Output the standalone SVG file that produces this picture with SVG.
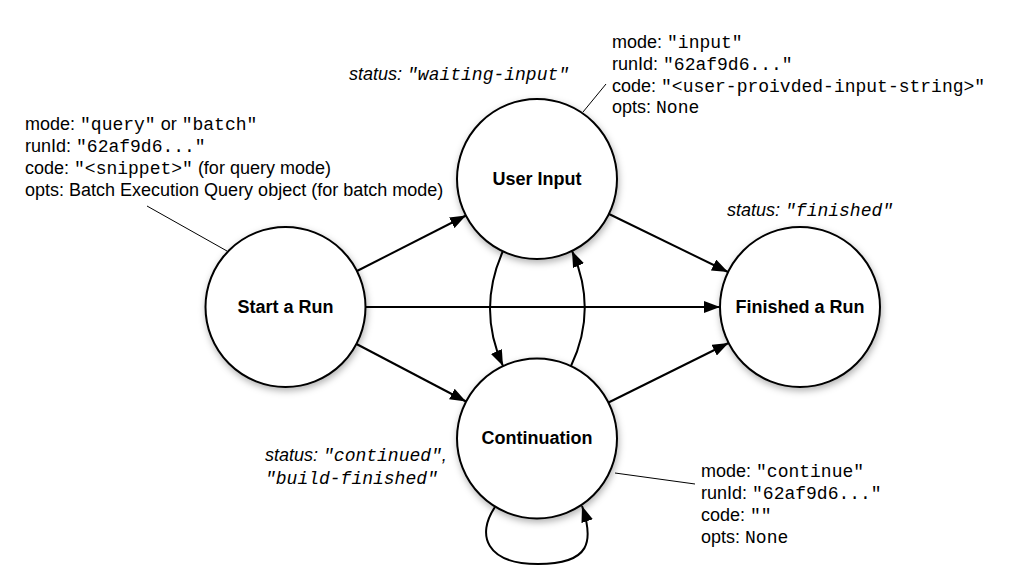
<svg xmlns="http://www.w3.org/2000/svg" width="1029" height="584" viewBox="0 0 1029 584">
<style>
.node{fill:#fff;stroke:#000;stroke-width:2;filter:url(#sh)}
.lbl{font-family:"Liberation Sans",Arial,sans-serif;font-weight:bold;font-size:18px;text-anchor:middle;fill:#000}
.ann{font-family:"Liberation Sans",Arial,sans-serif;font-size:18px;fill:#000}
.st{font-family:"Liberation Sans",Arial,sans-serif;font-size:18px;font-style:italic;fill:#000}
.m{font-family:"Liberation Mono","Courier New",monospace}
.edge{fill:none;stroke:#000;stroke-width:2;marker-end:url(#ah)}
.ptr{fill:none;stroke:#000;stroke-width:1}
</style>
<defs>
<filter id="sh" x="-20%" y="-20%" width="140%" height="150%">
<feDropShadow dx="1" dy="3" stdDeviation="3.5" flood-color="#000" flood-opacity="0.3"/>
</filter>
<marker id="ah" markerUnits="userSpaceOnUse" markerWidth="16" markerHeight="12" refX="16" refY="6" orient="auto">
<path d="M0,0 L16,6 L0,12 z" fill="#000"/>
</marker>
</defs>
<rect width="1029" height="584" fill="#fff"/>

<g id="connectors">
<line class="edge" x1="357" y1="271" x2="466" y2="215.5"/>
<line class="edge" x1="356.5" y1="344" x2="466" y2="401.5"/>
<line class="edge" x1="365.5" y1="307" x2="720" y2="307"/>
<line class="edge" x1="609" y1="214" x2="728" y2="272"/>
<line class="edge" x1="608.5" y1="402.5" x2="728.5" y2="343"/>
<path class="edge" d="M503 251 Q477 309 503 366"/>
<path class="edge" d="M571 366 Q598 309 572 251"/>
<path class="edge" d="M495 507 C476 535 486 564 538 564 C591 564 594 541 582 506"/>
<line class="ptr" x1="147" y1="206" x2="227" y2="251"/>
<line class="ptr" x1="606" y1="84" x2="583" y2="112"/>
<line class="ptr" x1="615" y1="473" x2="695" y2="484"/>
</g>

<g id="start">
<circle class="node" cx="285.5" cy="307" r="80"/>
<text class="lbl" x="285.5" y="313">Start a Run</text>
</g>
<g id="userinput">
<circle class="node" cx="537" cy="179" r="80"/>
<text class="lbl" x="537" y="185">User Input</text>
</g>
<g id="continuation">
<circle class="node" cx="537" cy="438.5" r="80"/>
<text class="lbl" x="537" y="444">Continuation</text>
</g>
<g id="finished">
<circle class="node" cx="800" cy="307" r="80"/>
<text class="lbl" x="800" y="313">Finished a Run</text>
</g>

<g id="annotations">
<text class="ann" x="25" y="130">mode: <tspan class="m">"query"</tspan> or <tspan class="m">"batch"</tspan></text>
<text class="ann" x="25" y="152">runId: <tspan class="m">"62af9d6..."</tspan></text>
<text class="ann" x="25" y="174">code: <tspan class="m">"&lt;snippet&gt;"</tspan> (for query mode)</text>
<text class="ann" x="25" y="196">opts: Batch Execution Query object (for batch mode)</text>

<text class="ann" x="612" y="48">mode: <tspan class="m">"input"</tspan></text>
<text class="ann" x="612" y="70">runId: <tspan class="m">"62af9d6..."</tspan></text>
<text class="ann" x="612" y="92">code: <tspan class="m">"&lt;user-proivded-input-string&gt;"</tspan></text>
<text class="ann" x="612" y="113">opts: <tspan class="m">None</tspan></text>

<text class="ann" x="701" y="477">mode: <tspan class="m">"continue"</tspan></text>
<text class="ann" x="701" y="499">runId: <tspan class="m">"62af9d6..."</tspan></text>
<text class="ann" x="701" y="521">code: <tspan class="m">""</tspan></text>
<text class="ann" x="701" y="543">opts: <tspan class="m">None</tspan></text>

<text class="st" x="349" y="80">status: <tspan class="m">"waiting-input"</tspan></text>
<text class="st" x="727" y="216">status: <tspan class="m">"finished"</tspan></text>
<text class="st" x="265" y="461">status: <tspan class="m">"continued"</tspan>,</text>
<text class="st" x="265" y="484"><tspan class="m">"build-finished"</tspan></text>
</g>
</svg>
